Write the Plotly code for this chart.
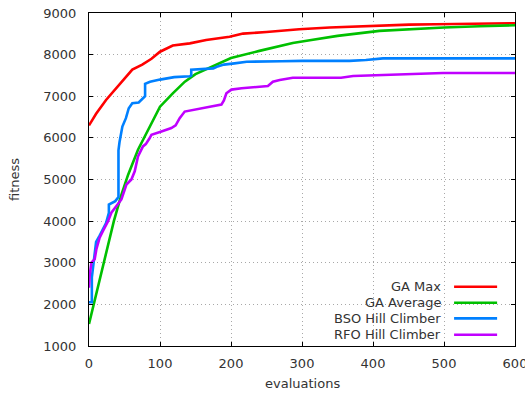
import plotly.graph_objects as go

# ---- data ----
ga_max_x = [0, 10, 24, 42, 61, 75, 88, 100, 118, 142, 165, 198, 217, 250, 296, 339, 391, 451, 489, 550, 600]
ga_max_y = [6300, 6580, 6910, 7270, 7640, 7760, 7900, 8070, 8220, 8270, 8350, 8430, 8505, 8545, 8610, 8650, 8690, 8720, 8730, 8750, 8755]

ga_avg_x = [0, 10, 21, 35, 45, 55, 69, 85, 100, 118, 135, 150, 172, 200, 240, 287, 311, 350, 409, 450, 500, 550, 600]
ga_avg_y = [1530, 2230, 3000, 4000, 4600, 5110, 5716, 6270, 6750, 7070, 7350, 7530, 7710, 7920, 8090, 8280, 8347, 8450, 8570, 8610, 8650, 8682, 8706]

bso_x = [0, 4, 4, 7, 10, 15, 19, 24, 28, 28, 37, 41.5, 41.5, 43, 47, 52, 56, 61, 70, 77,
         79, 79, 86, 100, 120, 142, 144, 144, 175, 180, 190, 205, 222, 271, 300, 367, 390, 414, 600]
bso_y = [2050, 2050, 2650, 3044, 3500, 3650, 3780, 3950, 4200, 4400, 4480, 4580, 5700, 5900, 6273, 6474, 6713, 6832, 6850, 6950,
         7000, 7300, 7350, 7400, 7460, 7480, 7500, 7640, 7670, 7710, 7760, 7790, 7828, 7840, 7850, 7850, 7870, 7909, 7909]

rfo_x = [0, 1, 3.4, 8, 10.4, 15, 19.7, 26.8, 31.5, 38.5, 45.6, 52.7, 59.7, 64.4, 69, 76, 80, 85.5, 88, 102, 116, 122,
         127.7, 134.8, 149, 163, 172, 186.5, 190, 193.5, 200.6, 215, 240, 252, 259, 268.6, 287, 355, 372, 419, 475, 498.6, 600]
rfo_y = [2400, 2700, 3005, 3084, 3325, 3603, 3762, 4000, 4202, 4360, 4520, 4879, 5000, 5197, 5555, 5795, 5850, 5995, 6075, 6154, 6235, 6300,
         6474, 6632, 6673, 6713, 6752, 6800, 6900, 7072, 7160, 7191, 7216, 7246, 7350, 7390, 7445, 7445, 7485, 7509, 7533, 7560, 7560]

series_names = ["GA Max", "GA Average", "BSO Hill Climber", "RFO Hill Climber"]
series_colors = ["#ff0000", "#00c000", "#0080ff", "#c000ff"]
x_ticks = [0, 100, 200, 300, 400, 500, 600]
y_ticks = [1000, 2000, 3000, 4000, 5000, 6000, 7000, 8000, 9000]

FONT = "DejaVu Sans"
TXT = "#333333"

fig = go.Figure()
for xs, ys, name, col in zip([ga_max_x, ga_avg_x, bso_x, rfo_x],
                             [ga_max_y, ga_avg_y, bso_y, rfo_y],
                             series_names, series_colors):
    fig.add_trace(go.Scatter(x=xs, y=ys, mode="lines", name=name,
                             line=dict(color=col, width=2.6), showlegend=False))

axis_common = dict(
    showline=True, linecolor="#000000", linewidth=1, mirror="ticks",
    ticks="inside", ticklen=4, tickcolor="#000000", tickwidth=1,
    showgrid=True, gridcolor="#a8a8a8", gridwidth=1, griddash="1px,3px",
    zeroline=False, tickfont=dict(family=FONT, size=13, color=TXT),
    ticklabeloverflow="allow", automargin=False,
)

fig.update_xaxes(range=[0, 600], tickvals=x_ticks, ticklabelstandoff=5, **axis_common)
fig.update_yaxes(range=[1000, 9000], tickvals=y_ticks, ticklabelstandoff=9, **axis_common)

# key box (opaque) in lower right
shapes = [dict(type="rect", xref="paper", yref="paper", x0=0.488, x1=0.975, y0=0.015, y1=0.198,
               fillcolor="white", line=dict(width=0), layer="between")]
annotations = []
row_y = [0.178, 0.130, 0.083, 0.034]
for name, col, yy in zip(series_names, series_colors, row_y):
    annotations.append(dict(x=0.831, y=yy, xref="paper", yref="paper", text=name, showarrow=False,
                            xanchor="right", yanchor="middle",
                            font=dict(family=FONT, size=13, color=TXT)))
    shapes.append(dict(type="line", xref="paper", yref="paper", x0=0.857, x1=0.958, y0=yy, y1=yy,
                       line=dict(color=col, width=2.6), layer="above"))

annotations.append(dict(x=-0.175, y=0.5, xref="paper", yref="paper", text="fitness", showarrow=False,
                        textangle=-90, xanchor="center", yanchor="middle",
                        font=dict(family=FONT, size=13, color=TXT)))
annotations.append(dict(x=0.5, y=-0.114, xref="paper", yref="paper", text="evaluations", showarrow=False,
                        xanchor="center", yanchor="middle",
                        font=dict(family=FONT, size=13, color=TXT)))

fig.update_layout(
    width=525, height=394,
    margin=dict(l=89, r=10, t=13, b=48, autoexpand=False),
    paper_bgcolor="white", plot_bgcolor="white",
    shapes=shapes, annotations=annotations,
    showlegend=False,
)

fig.write_html("out.html")
